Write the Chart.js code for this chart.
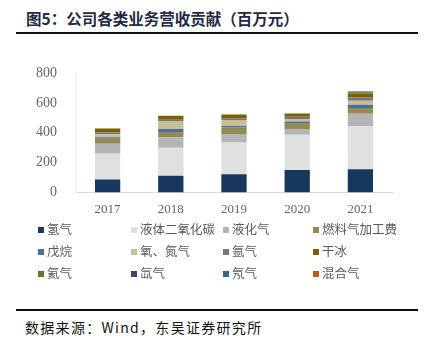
<!DOCTYPE html>
<html>
<head>
<meta charset="utf-8">
<script src="https://cdn.jsdelivr.net/npm/chart.js@4.4.0/dist/chart.umd.min.js"></script>
<style>
body { margin: 0; background: #fff; width: 426px; height: 349px; overflow: hidden; position: relative; font-family: "Noto Sans CJK SC", sans-serif; }
#title { position: absolute; left: 26px; top: 7px; font-size: 15.5px; font-weight: bold; color: #1f2a44; white-space: nowrap; }
.rule { position: absolute; left: 16px; width: 402px; height: 2px; background: #111; }
#chartBox { position: absolute; left: 0; top: 40px; width: 426px; height: 180px; }
#legend { position: absolute; left: 0; top: 220px; width: 426px; height: 64px; }
.item { position: absolute; font-size: 12.5px; color: #595959; white-space: nowrap; line-height: 14px; }
.item i { display: inline-block; width: 6px; height: 6px; margin-right: 3px; vertical-align: 1px; }
#source { position: absolute; left: 25px; top: 317px; font-size: 14px; letter-spacing: 1.3px; color: #111; white-space: nowrap; }
</style>
</head>
<body>
<div id="title">图5：公司各类业务营收贡献（百万元）</div>
<div class="rule" style="top:32px"></div>
<div id="chartBox"><canvas id="revChart" width="426" height="180"></canvas></div>
<div id="legend"></div>
<div class="rule" style="top:309px"></div>
<div id="source">数据来源：Wind，东吴证券研究所</div>
<script>
// years and revenue by business line (million yuan)
var years = ['2017', '2018', '2019', '2020', '2021'];
var hydrogen = [88, 113, 122, 152, 157];
var liquidCO2 = [172, 187, 213, 235, 287];
var lpg = [66, 70, 57, 38, 83];
var fuelGasFee = [35, 35, 44, 41, 39];
var pentane = [10, 20, 10, 9, 22];
var oxyNitrogen = [20, 50, 39, 17, 26];
var argon = [13, 13, 13, 15, 22];
var dryIce = [24, 26, 24, 22, 25];
var helium = [0, 0, 0, 0, 10];
var xenon = [0, 0, 0, 0, 3];
var neon = [0, 0, 0, 0, 2];
var mixedGas = [0, 0, 0, 0, 2];
var yTicks = [0, 200, 400, 600, 800];

var series = [
	{ label: '氢气', data: hydrogen, color: '#17375e' },
	{ label: '液体二氧化碳', data: liquidCO2, color: '#e0e0e0' },
	{ label: '液化气', data: lpg, color: '#b5b5b5' },
	{ label: '燃料气加工费', data: fuelGasFee, color: '#948a54' },
	{ label: '戊烷', data: pentane, color: '#4a6fa0' },
	{ label: '氧、氮气', data: oxyNitrogen, color: '#c8bf96' },
	{ label: '氩气', data: argon, color: '#767676' },
	{ label: '干冰', data: dryIce, color: '#7f6000' },
	{ label: '氦气', data: helium, color: '#5f7a30' },
	{ label: '氙气', data: xenon, color: '#4b3a6a' },
	{ label: '氖气', data: neon, color: '#2c6e80' },
	{ label: '混合气', data: mixedGas, color: '#c55a11' }
];

var ctx = document.getElementById('revChart').getContext('2d');

var revChart = new Chart(ctx, {
	type: 'bar',
	data: {
		labels: years,
		datasets: series.map(function(s) {
			return {
				label: s.label,
				data: s.data,
				backgroundColor: s.color,
				barPercentage: 0.4,
				categoryPercentage: 1.0
			};
		})
	},
	options: {
		responsive: false,
		animation: false,
		layout: { padding: { top: 33, right: 34, bottom: 0, left: 0 } },
		plugins: { legend: { display: false }, tooltip: { enabled: false } },
		scales: {
			x: {
				stacked: true,
				grid: { display: false, drawTicks: false },
				border: { display: true, color: '#d9d9d9', width: 1 },
				ticks: { padding: 9, color: '#666', font: { family: 'Liberation Serif', size: 13 } },
				afterFit: function(s) { s.height = 24; }
			},
			y: {
				stacked: true,
				min: 0,
				max: 800,
				afterBuildTicks: function(s) { s.ticks = yTicks.map(function(v) { return { value: v }; }); },
				grid: { display: false, drawTicks: false },
				border: { display: true, color: '#ececec', width: 1 },
				ticks: { padding: 19, color: '#666', font: { family: 'Liberation Serif', size: 14 } },
				afterFit: function(s) { s.width = 76; }
			}
		}
	}
});

// legend: 4 columns x 3 rows
var colX = [38, 131, 223, 313];
var rowY = [222, 244, 266];
var legend = document.getElementById('legend');
series.forEach(function(s, i) {
	var el = document.createElement('div');
	el.className = 'item';
	el.style.left = colX[i % 4] + 'px';
	el.style.top = (rowY[Math.floor(i / 4)] - 220) + 'px';
	el.innerHTML = '<i style="background:' + s.color + '"></i>' + s.label;
	legend.appendChild(el);
});
</script>
</body>
</html>
